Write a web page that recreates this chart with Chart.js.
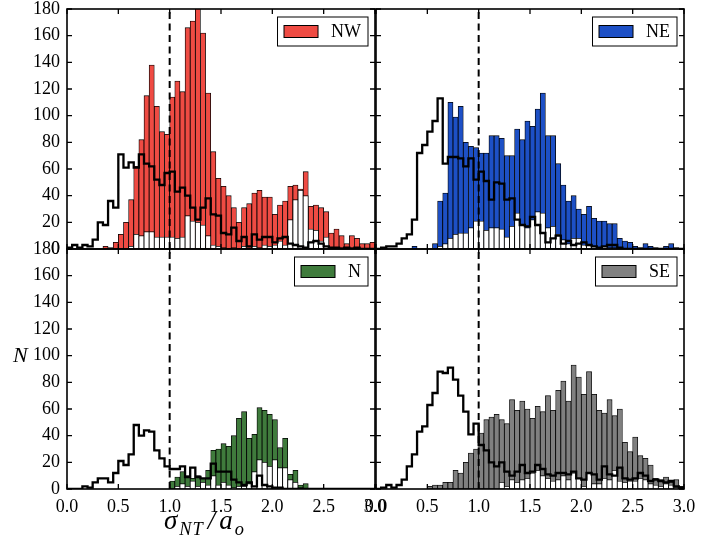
<!DOCTYPE html>
<html>
<head>
<meta charset="utf-8">
<script src="https://cdn.jsdelivr.net/npm/chart.js@4.4.0/dist/chart.umd.min.js"></script>
<style>
  body { margin: 0; width: 724px; height: 541px; background: #fff; position: relative; overflow: hidden; }
  canvas { position: absolute; }
  .lbl { position: absolute; font-family: "Liberation Serif", serif; font-style: italic; color: #000; white-space: nowrap; }
  .lbl sub { font-size: 0.68em; vertical-align: -0.35em; line-height: 0; letter-spacing: 1px; margin: 0 3px 0 2px; }
  .lbl .sl { margin: 0 4px 0 1px; }
</style>
</head>
<body>
<canvas id="nw"></canvas>
<canvas id="ne"></canvas>
<canvas id="n"></canvas>
<canvas id="se"></canvas>
<div class="lbl" id="ylab" style="left:13px; top:344px; font-size:22px; line-height:22px;">N</div>
<div class="lbl" id="xlab" style="left:164px; top:507px; font-size:27px; line-height:27px;">σ<sub>NT</sub><span class="sl">/</span>a<sub>o</sub></div>
<script>
// --- DATA: 60 bins of width 0.05 on sigma_NT / a_o ---
const BIN_WIDTH = 0.05;
const BIN_LEFT = Array.from({ length: 60 }, (_, i) => +(i * BIN_WIDTH).toFixed(2));
const X_TICKS = [0, 0.5, 1.0, 1.5, 2.0, 2.5, 3.0];
const Y_TICKS = [0, 20, 40, 60, 80, 100, 120, 140, 160, 180];
const REF_X = 1.0;

// NW: coloured total, white subset, black step outline
const NW_TOTAL = [0,0,0,0,0,0,0,2,1,5, 11,20,37,62,82,115,138,107,88,86, 114,126,118,166,171,181,162,117,73,53,
                  47,40,31,20,31,34,42,44,39,39, 26,33,36,47,48,45,58,32,33,31, 28,12,15,10,4,10,8,4,4,5];
const NW_WHITE = [0,0,0,0,0,0,0,0,0,0, 0,0,2,11,10,13,13,9,9,9, 9,8,9,25,21,20,18,10,3,2,
                  1,0,1,0,2,0,2,1,3,2, 3,6,3,22,37,44,40,15,14,6, 9,1,1,1,0,1,0,0,0,0];
const NW_STEP  = [1,3,1,3,2,7,20,18,36,31, 71,61,65,61,71,64,62,52,48,57, 58,43,46,40,31,22,31,38,26,25,
                  12,11,16,6,9,2,11,7,9,9, 5,8,9,4,3,2,1,5,6,4, 2,1,1,0,1,0,1,0,0,0];

// NE
const NE_TOTAL = [0,0,0,0,0,0,0,2,0,0, 0,4,36,42,110,99,107,80,77,76, 72,72,85,85,83,70,70,90,82,96,
                  92,105,117,85,85,64,48,36,40,30, 26,32,23,21,21,19,19,8,6,5, 2,1,4,2,1,0,2,4,1,0];
const NE_WHITE = [0,0,0,0,0,0,0,0,0,0, 0,0,2,4,8,11,12,12,16,21, 21,14,16,16,15,9,17,27,18,16,
                  22,28,27,16,17,11,7,4,8,8, 3,3,2,1,2,1,1,0,0,0, 0,0,0,0,0,0,0,0,0,0];
const NE_STEP  = [0,1,2,2,4,8,11,22,72,78, 88,96,113,64,69,69,68,62,68,52, 58,51,37,50,49,37,38,22,18,17,
                  24,18,12,5,8,10,4,6,3,4, 5,3,2,1,2,3,3,1,0,0, 0,0,0,0,0,0,0,0,0,0];

// N
const N_TOTAL = [0,0,0,0,0,0,0,0,0,0, 0,0,0,0,0,0,0,0,0,0, 6,9,13,10,8,10,8,14,29,30,
                 34,32,40,53,58,38,41,61,59,56, 52,31,38,11,14,3,4,0,0,0, 0,0,0,0,0,0,0,0,0,0];
const N_WHITE = [0,0,0,0,0,0,0,0,0,0, 0,0,0,0,0,0,0,0,0,0, 0,2,4,2,6,2,5,3,10,3,
                 5,3,1,2,2,4,13,22,20,17, 22,16,16,7,5,1,0,0,0,0, 0,0,0,0,0,0,0,0,0,0];
const N_STEP  = [0,0,0,2,1,5,8,8,5,12, 21,18,26,48,40,44,43,29,23,17, 15,15,17,9,16,9,8,8,19,13,
                 13,13,7,5,3,5,2,10,3,2, 1,1,0,0,0,0,0,0,0,0, 0,0,0,0,0,0,0,0,0,0];

// SE
const SE_TOTAL = [0,0,0,0,0,0,0,0,0,0, 2,3,3,5,5,14,12,20,27,30, 42,52,54,56,52,49,67,59,66,60,
                  53,62,58,70,59,74,81,66,93,84, 71,88,71,59,57,67,55,60,35,28, 39,25,23,18,8,7,9,5,7,2];
const SE_WHITE = [0,0,0,0,0,0,0,0,0,0, 0,0,0,0,0,0,0,0,0,0, 0,0,0,0,5,2,7,5,7,8,
                  12,14,10,8,6,7,10,7,12,8, 2,12,4,4,8,7,14,6,5,6, 6,8,7,4,3,2,4,3,1,0];
const SE_STEP  = [0,1,3,1,3,7,17,26,43,47, 63,72,88,87,91,82,70,58,41,49, 33,29,20,17,20,13,10,13,18,12,
                  13,18,15,11,10,12,12,11,13,8, 7,12,11,7,17,11,10,16,8,7, 8,12,10,6,7,6,5,6,2,1];

const PANELS = [
  { id: 'nw', label: 'NW', color: '#ef4b43', total: NW_TOTAL, white: NW_WHITE, step: NW_STEP, area: [67, 9, 308, 240], showX: false, showY: true },
  { id: 'ne', label: 'NE', color: '#1d50c6', total: NE_TOTAL, white: NE_WHITE, step: NE_STEP, area: [376, 9, 308, 240], showX: false, showY: false },
  { id: 'n',  label: 'N',  color: '#3f7b3c', total: N_TOTAL,  white: N_WHITE,  step: N_STEP,  area: [67, 249, 308, 240], showX: true, showY: true },
  { id: 'se', label: 'SE', color: '#808080', total: SE_TOTAL, white: SE_WHITE, step: SE_STEP, area: [376, 249, 308, 240], showX: true, showY: false },
];

const FONT = { family: '"Liberation Serif", serif', size: 18 };

// frame, inward ticks on all four sides, boxed legend
const panelDecor = {
  id: 'panelDecor',
  afterDraw(chart) {
    const { ctx, chartArea: a, scales: { x, y } } = chart;
    const main = chart.data.datasets.find(d => d.isMain);
    ctx.save();
    ctx.strokeStyle = '#000';
    ctx.lineWidth = 1.3;
    ctx.beginPath();
    x.ticks.forEach(t => {
      const px = x.getPixelForValue(t.value);
      ctx.moveTo(px, a.bottom); ctx.lineTo(px, a.bottom - 5);
      ctx.moveTo(px, a.top); ctx.lineTo(px, a.top + 5);
    });
    y.ticks.forEach(t => {
      const py = y.getPixelForValue(t.value);
      ctx.moveTo(a.left, py); ctx.lineTo(a.left + 5, py);
      ctx.moveTo(a.right, py); ctx.lineTo(a.right - 5, py);
    });
    ctx.stroke();
    ctx.lineWidth = 1.6;
    ctx.strokeRect(a.left, a.top, a.right - a.left, a.bottom - a.top);

    // legend
    ctx.font = `${FONT.size}px ${FONT.family}`;
    const tw = ctx.measureText(main.label).width;
    const bw = 6.5 + 34 + 13 + tw + 7, bh = 29;
    const bx = a.right - 7 - bw, by = a.top + 8;
    ctx.fillStyle = '#fff';
    ctx.fillRect(bx, by, bw, bh);
    ctx.lineWidth = 1;
    ctx.strokeRect(bx, by, bw, bh);
    ctx.fillStyle = main.backgroundColor;
    ctx.fillRect(bx + 6.5, by + bh / 2 - 6, 34, 12);
    ctx.strokeRect(bx + 6.5, by + bh / 2 - 6, 34, 12);
    ctx.fillStyle = '#000';
    ctx.textBaseline = 'middle';
    ctx.fillText(main.label, bx + 6.5 + 34 + 13, by + bh / 2 + 1);
    ctx.restore();
  }
};

function makePanel(p) {
  const [L, T, W, H] = p.area;
  const padL = p.showY ? L : 24, padT = 24, padR = 24, padB = p.showX ? 40 : 24;
  const cv = document.getElementById(p.id);
  cv.width = W + padL + padR;
  cv.height = H + padT + padB;
  cv.style.left = (L - padL) + 'px';
  cv.style.top = (T - padT) + 'px';

  const centers = BIN_LEFT.map(v => v + BIN_WIDTH / 2);
  const totalPts = p.total.map((v, i) => ({ x: centers[i], y: v }));
  const whitePts = p.white.map((v, i) => ({ x: centers[i], y: v }));
  const stepPts = p.step.map((v, i) => ({ x: BIN_LEFT[i], y: v }));
  stepPts.push({ x: BIN_LEFT[BIN_LEFT.length - 1] + BIN_WIDTH, y: p.step[p.step.length - 1] });

  const barStyle = { borderColor: '#000', borderWidth: 0.8, borderSkipped: false, grouped: false,
                     barPercentage: 1, categoryPercentage: 1 };

  new Chart(cv, {
    type: 'bar',
    data: {
      datasets: [
        { type: 'line', label: 'ref', data: [{ x: REF_X, y: 0 }, { x: REF_X, y: 180 }],
          borderColor: '#000', borderWidth: 2, borderDash: [7, 4.5], pointRadius: 0, order: 0 },
        { type: 'line', label: 'step', data: stepPts, stepped: 'before', borderColor: '#000',
          borderWidth: 2.3, pointRadius: 0, fill: false, order: 1 },
        { label: 'sub', data: whitePts, backgroundColor: '#fff', order: 2, ...barStyle },
        { label: p.label, isMain: true, data: totalPts, backgroundColor: p.color, order: 3, ...barStyle },
      ]
    },
    options: {
      responsive: false,
      animation: false,
      events: [],
      layout: { padding: { left: 0, top: padT, right: padR, bottom: 0 } },
      plugins: { legend: { display: false }, tooltip: { enabled: false } },
      scales: {
        x: {
          type: 'linear', min: 0, max: 3, offset: false,
          afterBuildTicks: s => { s.ticks = X_TICKS.map(v => ({ value: v })); },
          afterFit: s => { s.height = padB; },
          grid: { display: false, drawTicks: false }, border: { display: false },
          ticks: { display: p.showX, font: FONT, color: '#000', padding: 7, maxRotation: 0, autoSkip: false,
                   callback: v => Number(v).toFixed(1) }
        },
        y: {
          type: 'linear', min: 0, max: 180,
          afterBuildTicks: s => { s.ticks = Y_TICKS.map(v => ({ value: v })); },
          afterFit: s => { s.width = padL; },
          grid: { display: false, drawTicks: false }, border: { display: false },
          ticks: { display: p.showY, font: FONT, color: '#000', padding: 7 }
        }
      }
    },
    plugins: [panelDecor]
  });
}

PANELS.forEach(makePanel);
</script>
</body>
</html>
